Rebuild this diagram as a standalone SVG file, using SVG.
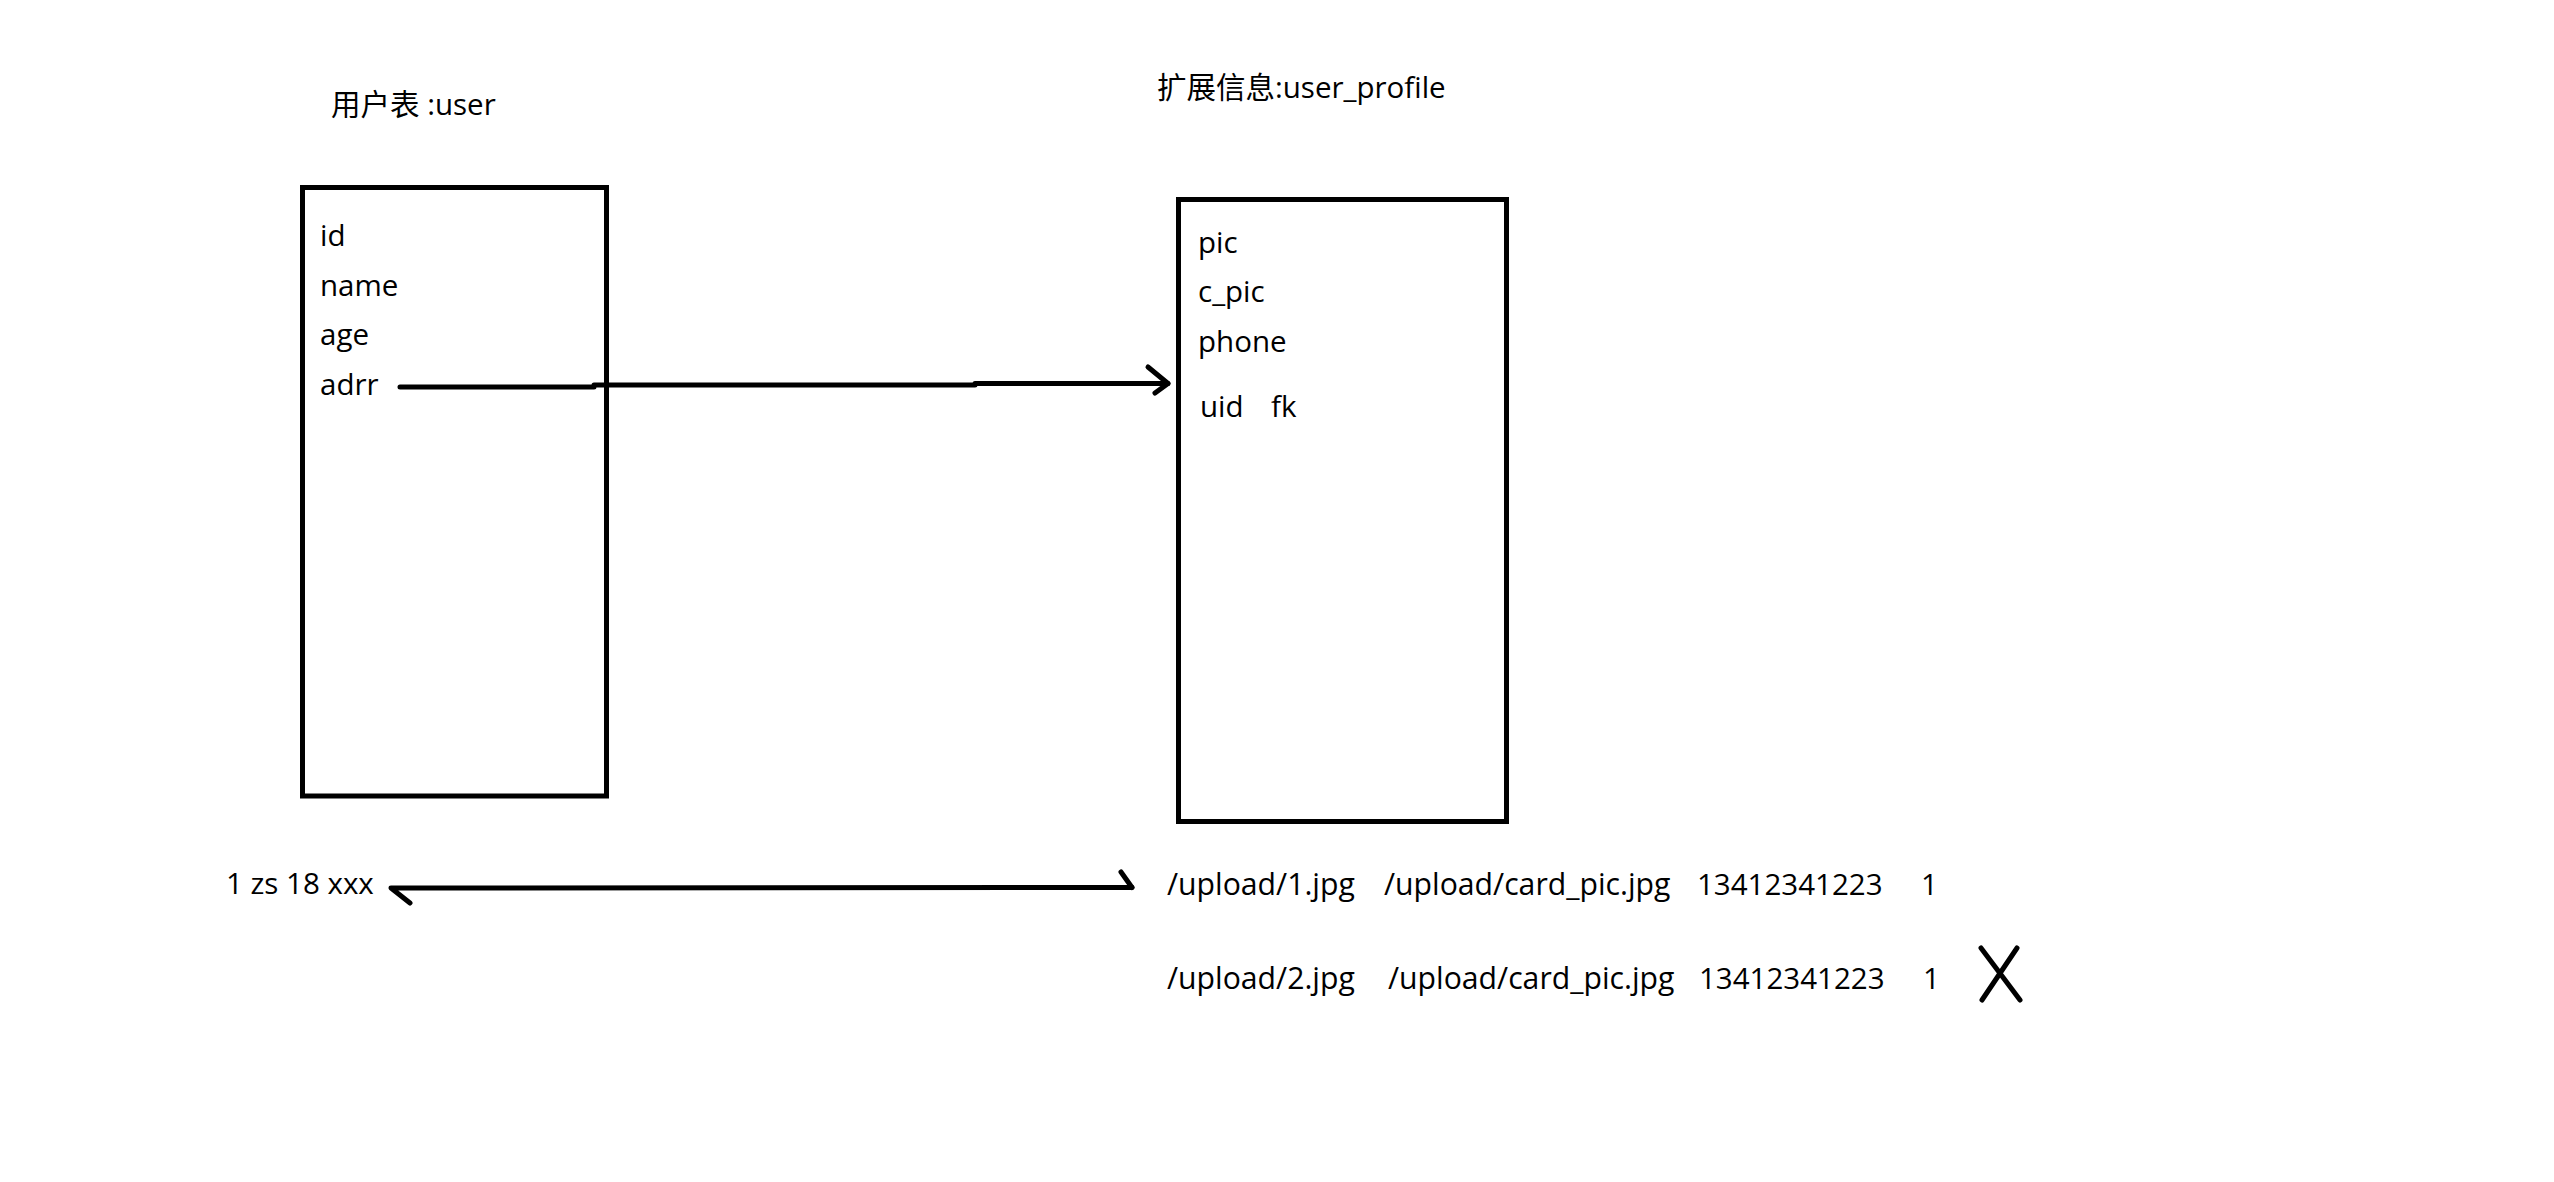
<svg xmlns="http://www.w3.org/2000/svg" width="2554" height="1182" viewBox="0 0 2554 1182">
<style>
text{font-family:"Open Sans","Noto Sans CJK SC",sans-serif;font-size:29.5px;fill:#000}
.row{font-size:30.2px}
.box{fill:none;stroke:#000;stroke-width:5}
.ln{fill:none;stroke:#000;stroke-width:5;stroke-linecap:round;stroke-linejoin:round}
</style>
<rect width="2554" height="1182" fill="#fff"/>
<g id="user">
<text x="331" y="115">用户表 :user</text>
<rect class="box" x="302.5" y="187.5" width="304" height="608.5"/>
<text x="320" y="246">id</text>
<text x="320" y="296">name</text>
<text x="320" y="345">age</text>
<text x="320" y="395">adrr</text>
</g>
<g id="user_profile">
<text x="1157" y="98" font-size="29.2px">扩展信息:user_profile</text>
<rect class="box" x="1178.5" y="199.5" width="328" height="622"/>
<text x="1198" y="253">pic</text>
<text x="1198" y="302">c_pic</text>
<text x="1198" y="352">phone</text>
<text x="1200" y="417">uid</text>
<text x="1271" y="417">fk</text>
</g>
<g id="rows">
<text x="226" y="894">1 zs 18 xxx</text>
<text class="row" x="1167" y="895">/upload/1.jpg</text>
<text class="row" x="1384" y="895">/upload/card_pic.jpg</text>
<text x="1697" y="895">13412341223</text>
<text x="1921" y="895">1</text>
<text class="row" x="1167" y="989">/upload/2.jpg</text>
<text class="row" x="1388" y="989">/upload/card_pic.jpg</text>
<text x="1699" y="989">13412341223</text>
<text x="1923" y="989">1</text>
</g>
<g id="connectors">
<path class="ln" d="M400 387 L594 387 L594 385 L975 385 L975 383.5 L1168 383.5"/>
<path class="ln" d="M1148 367 L1168 383.5 L1155 393"/>
<path class="ln" d="M1132 887.5 L391 888 L410 903"/>
<path class="ln" d="M1132 887.5 L1121 872"/>
<path class="ln" d="M1981 948 L2020 1000 M2017 948 L1982 1000"/>
</g>
</svg>
